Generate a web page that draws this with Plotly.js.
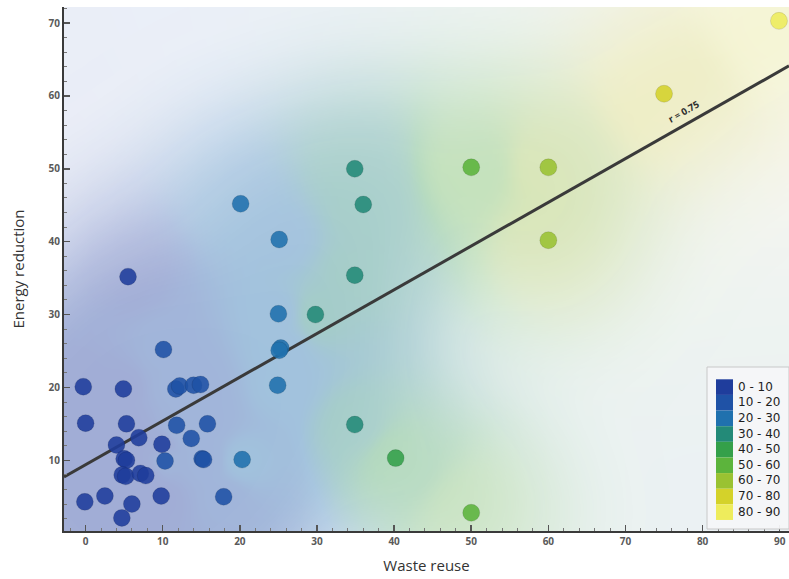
<!DOCTYPE html>
<html>
<head>
<meta charset="utf-8">
<script src="https://cdn.plot.ly/plotly-3.0.1.min.js"></script>
<style>
  html, body { margin: 0; padding: 0; background: #ffffff; }
  #chart { width: 789px; height: 579px; }
</style>
</head>
<body>
<div id="chart"></div>
<script>
// ---- data ----
const wasteReuse = [5.5, 10.1, -0.3, 4.9, 11.7, 12.2, 14.0, 14.9, 0.0, 5.3, 6.9, 4.0, 11.8, 15.8, 13.7, 9.9,
  5.0, 5.3, 10.3, 15.1, 15.3, 20.3, 4.75, 5.2, 7.1, 7.8, -0.1, 2.5, 6.0, 4.7, 9.8, 17.9,
  20.1, 25.1, 25.0, 25.3, 25.1, 24.9, 29.8, 34.9, 36.0, 34.9, 34.9, 40.2, 50.0, 50.0, 60.0, 60.0, 75.0, 89.9];
const energyReduction = [35.2, 25.2, 20.1, 19.8, 19.8, 20.2, 20.3, 20.4, 15.1, 15.0, 13.1, 12.1, 14.8, 15.0, 13.0, 12.2,
  10.2, 10.0, 9.9, 10.2, 10.1, 10.1, 8.0, 7.8, 8.2, 7.9, 4.3, 5.1, 4.0, 2.1, 5.1, 5.0,
  45.2, 40.3, 30.1, 25.4, 25.1, 20.3, 30.0, 50.0, 45.1, 35.4, 14.9, 10.3, 2.8, 50.2, 50.2, 40.2, 60.3, 70.3];
// colour class index (0 = "0 - 10", ... 8 = "80 - 90")
const colourClass = [0, 1, 0, 0, 1, 1, 1, 1, 0, 0, 0, 0, 1, 1, 1, 0,
  0, 0, 1, 1, 1, 2, 0, 0, 0, 0, 0, 0, 0, 0, 0, 1,
  2, 2, 2, 2, 2, 2, 3, 3, 3, 3, 3, 4, 5, 5, 6, 6, 7, 8];
const classLabels = ['0 - 10', '10 - 20', '20 - 30', '30 - 40', '40 - 50', '50 - 60', '60 - 70', '70 - 80', '80 - 90'];
const classMid = [5, 15, 25, 35, 45, 55, 65, 75, 85];
const classColors = ['#1f3d9c', '#1f52a6', '#2071ae', '#238a78', '#34a04a', '#5cb43c', '#9ac232', '#d4d22a', '#eeec5c'];
const fitIntercept = [9.4];
const fitSlope = [0.6];
const fitLabel = ['r = 0.75'];
const xTitle = 'Waste reuse';
const yTitle = 'Energy reduction';

// ---- layout geometry ----
const W = 789, H = 579;
const M = { l: 64, r: 0, t: 7, b: 48 };
const xRange = [-2.8, 91.2];
const yRange = [0.3, 72.2];
const pw = W - M.l - M.r, ph = H - M.t - M.b;
const pxPerX = pw / (xRange[1] - xRange[0]);
const pxPerY = ph / (yRange[1] - yRange[0]);
const paperX = p => (p - M.l) / pw;
const paperY = p => (H - M.b - p) / ph;

// ---- background field interpolated from the points ----
const gx = [], gy = [];
for (let x = -3; x <= 92.001; x += 0.5) gx.push(+x.toFixed(2));
for (let y = 0; y <= 73.001; y += 0.5) gy.push(+y.toFixed(2));
const zVal = [], zFade = [];
for (let j = 0; j < gy.length; j++) {
  const rowV = [], rowF = [];
  for (let i = 0; i < gx.length; i++) {
    let sw = 0, sv = 0, g = 0;
    for (let k = 0; k < wasteReuse.length; k++) {
      const dx = (gx[i] - wasteReuse[k]) * pxPerX;
      const dy = (gy[j] - energyReduction[k]) * pxPerY;
      const d2 = dx * dx + dy * dy;
      const w = 1 / Math.pow(d2 + 25, 2);
      sw += w; sv += w * classMid[colourClass[k]];
      g += Math.exp(-d2 / (90 * 90));
    }
    rowV.push(sv / sw);
    rowF.push(0.945 - 0.34 * (1 - Math.exp(-0.7 * g)));
  }
  zVal.push(rowV); zFade.push(rowF);
}
const valScale = [[0, classColors[0]]];
classMid.forEach((m, i) => valScale.push([m / 90, classColors[i]]));
valScale.push([1, classColors[8]]);

const traces = [
  { type: 'heatmap', x: gx, y: gy, z: zVal, zmin: 0, zmax: 90, colorscale: valScale,
    showscale: false, zsmooth: 'best', hoverinfo: 'skip' },
  { type: 'heatmap', x: gx, y: gy, z: zFade, zmin: 0, zmax: 1,
    colorscale: [[0, 'rgba(247,247,252,0)'], [1, 'rgba(247,247,252,1)']],
    showscale: false, zsmooth: 'best', hoverinfo: 'skip' },
  { type: 'scatter', mode: 'lines', x: xRange,
    y: xRange.map(x => fitIntercept[0] + fitSlope[0] * x),
    line: { color: '#3a3a3a', width: 3 }, hoverinfo: 'skip', showlegend: false },
  { type: 'scatter', mode: 'markers', x: wasteReuse, y: energyReduction,
    marker: { size: 17, color: colourClass.map(c => classColors[c]), opacity: 0.88,
      line: { color: 'rgba(0,0,0,0.12)', width: 1 } },
    hoverinfo: 'x+y', showlegend: false }
];

// ---- manual legend ----
const shapes = [{
  type: 'rect', xref: 'paper', yref: 'paper', x0: paperX(707), x1: paperX(789), y0: paperY(367), y1: paperY(529),
  fillcolor: 'rgba(246,246,248,0.95)', line: { color: '#c8c8c8', width: 1 }, layer: 'above'
}];
const annotations = [];
const rowTop = 379.3, rowH = 15.63;
classLabels.forEach((lab, i) => {
  shapes.push({ type: 'rect', xref: 'paper', yref: 'paper', x0: paperX(716), x1: paperX(733),
    y0: paperY(rowTop + rowH * (i + 1)), y1: paperY(rowTop + rowH * i),
    fillcolor: classColors[i], line: { width: 0 }, layer: 'above' });
  annotations.push({ xref: 'paper', yref: 'paper', x: paperX(737), y: paperY(rowTop + rowH * (i + 0.5) - 0.5),
    xanchor: 'left', yanchor: 'middle', text: lab, showarrow: false, borderpad: 0,
    font: { family: 'DejaVu Sans, sans-serif', size: 12, color: '#1e1e1e' } });
});
annotations.push({ x: 77.6, y: 57.8, xref: 'x', yref: 'y', text: fitLabel[0], showarrow: false,
  textangle: -Math.atan(fitSlope[0] * pxPerY / pxPerX) * 180 / Math.PI,
  font: { family: 'Open Sans, sans-serif', size: 9.5, color: '#2e2e2e', weight: 'bold' } });

const axisCommon = {
  showgrid: false, zeroline: false, showline: true, linecolor: '#3a3a3a', linewidth: 2,
  ticks: 'inside', ticklen: 6, tickwidth: 1.5, tickcolor: '#555', dtick: 10,
  minor: { dtick: 2, ticks: 'inside', ticklen: 3, tickcolor: '#777', tickwidth: 1 },
  tickfont: { family: 'Open Sans, sans-serif', size: 10, color: '#5a5a5a', weight: 'bold' },
  fixedrange: true
};

const layout = {
  width: W, height: H, margin: M,
  paper_bgcolor: '#ffffff', plot_bgcolor: '#ffffff', showlegend: false,
  xaxis: Object.assign({}, axisCommon, { range: xRange, tick0: 0,
    title: { text: xTitle, standoff: 13, font: { family: 'Open Sans, sans-serif', size: 15, color: '#333' } } }),
  yaxis: Object.assign({}, axisCommon, { range: yRange, tick0: 0, scaleanchor: false,
    title: { text: yTitle, standoff: 20, font: { family: 'Open Sans, sans-serif', size: 15, color: '#333' } } }),
  shapes: shapes, annotations: annotations
};

Plotly.newPlot('chart', traces, layout, { displayModeBar: false, staticPlot: true });
</script>
</body>
</html>
